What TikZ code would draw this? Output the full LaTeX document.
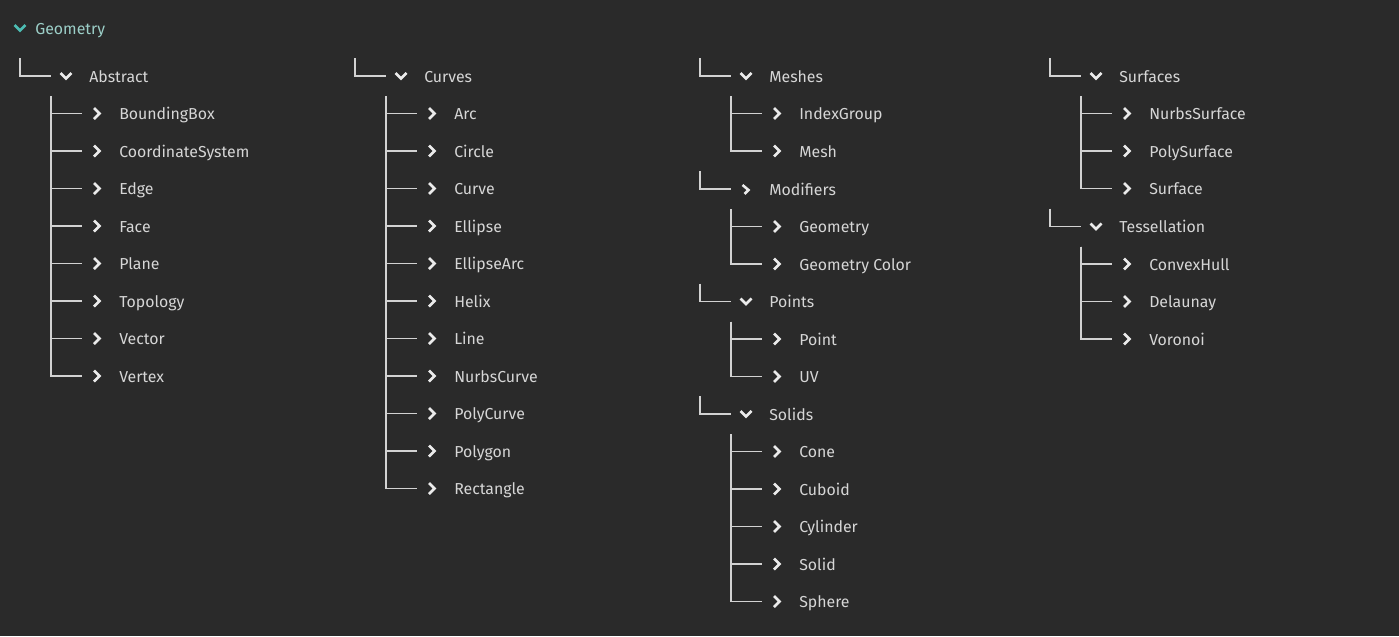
\documentclass[tikz,border=0pt]{standalone}
\usepackage{fontspec}
\setmainfont{Fira Sans}
\usepackage{tikz}
\usetikzlibrary{calc}

\definecolor{bgdark}{HTML}{2A2A2A}
\definecolor{treeline}{HTML}{D2D2D2}
\definecolor{labelgray}{HTML}{D6D6D6}
\definecolor{headteal}{HTML}{4DBDB3}
\definecolor{headtext}{HTML}{9CCFC8}

\tikzset{
  tree/.style={draw=treeline, line width=1.1pt},
  chev/.style={draw=white!92!black, line width=1.9pt, line join=miter},
  lbl/.style={anchor=base west, inner sep=0pt, text=labelgray,
    font=\fontsize{11.9}{13}\selectfont},
  chevright/.pic={\draw[chev] (-3,-5.5) -- (2.5,0) -- (-3,5.5);},
  chevdown/.pic={\draw[chev] (-5.5,-3) -- (0,2.5) -- (5.5,-3);},
  chevhalf/.pic={\draw[chev] (-3.5,-4) -- (2.5,1) -- (-1.5,5);},
}

% one group: elbow, chevron, title, then its children
\newcommand{\subtree}[6][chevdown]{%
  \coordinate (#2-top) at (#3,#4-18);
  \coordinate (#2-end) at (#3+31,#4);
  \pic at (#3+46,#4) {#1};
  \node[lbl] (#2) at (#3+69,#4+6) {#5};
  \draw[tree] (#2-top) |- (#2-end);
  \coordinate (#2-spine) at (#3+31,#4+20);
  \foreach \lbl [count=\i] in {#6} {
    \pgfmathsetmacro\yy{#4+37.5*\i}
    \coordinate (#2-\i-end) at (#3+62,\yy);
    \pic at (#3+77,\yy) {chevright};
    \node[lbl] (#2-\i) at (#3+99,\yy+6) {\lbl};
    \draw[tree] (#2-spine) |- (#2-\i-end);
  }%
}

\begin{document}
\begin{tikzpicture}[x=0.75pt,y=-0.75pt]
  \fill[bgdark] (0,0) rectangle (1399,636);
  \useasboundingbox (0,0) rectangle (1399,636);

  % header
  \pic[chev/.append style={draw=headteal}] at (20,28) {chevdown};
  \node[lbl,text=headtext] (geometry) at (35,34) {Geometry};

  \subtree{abs}{20}{76}{Abstract}{BoundingBox,CoordinateSystem,Edge,Face,Plane,Topology,Vector,Vertex}
  \subtree{crv}{355}{76}{Curves}{Arc,Circle,Curve,Ellipse,EllipseArc,Helix,Line,NurbsCurve,PolyCurve,Polygon,Rectangle}

  \subtree{msh}{700}{76}{Meshes}{IndexGroup,Mesh}
  \subtree[chevhalf]{mod}{700}{189}{Modifiers}{Geometry,Geometry Color}
  \subtree{pts}{700}{301.5}{Points}{Point,UV}
  \subtree{sol}{700}{414}{Solids}{Cone,Cuboid,Cylinder,Solid,Sphere}

  \subtree{srf}{1050}{76}{Surfaces}{NurbsSurface,PolySurface,Surface}
  \subtree{tes}{1050}{226.5}{Tessellation}{ConvexHull,Delaunay,Voronoi}
\end{tikzpicture}
\end{document}
